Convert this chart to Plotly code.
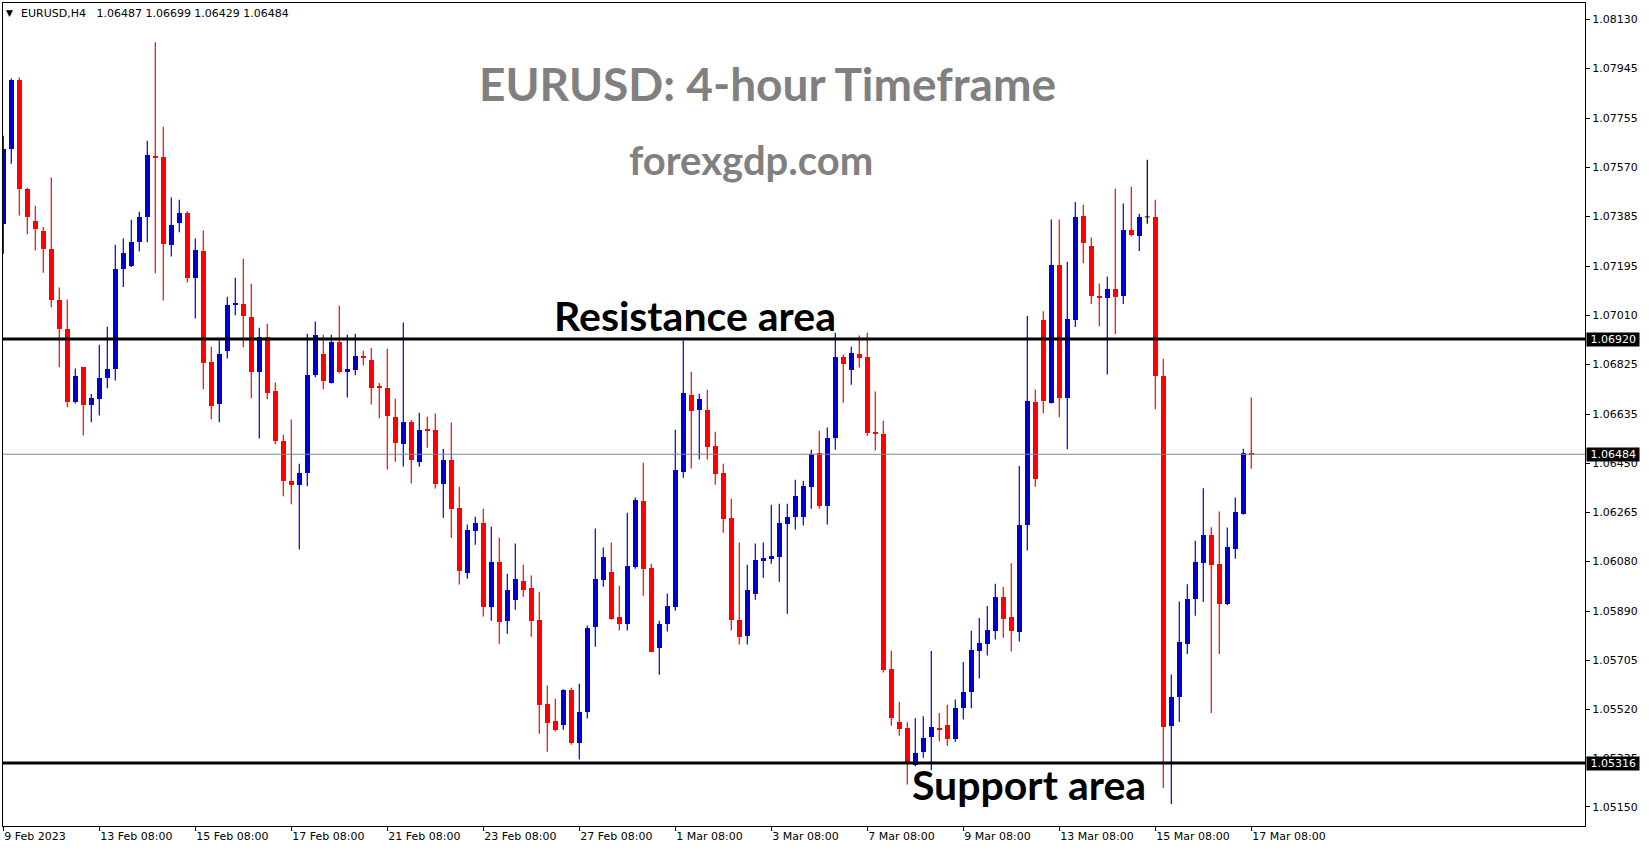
import plotly.graph_objects as go

# ---------------- data (EURUSD H4) ----------------
opens = [1.07356, 1.07637, 1.07901, 1.07489, 1.07367, 1.07329, 1.07262, 1.07069, 1.06959, 1.06681,
         1.06815, 1.06669, 1.06692, 1.06771, 1.06805, 1.07183, 1.07197, 1.07286, 1.07381, 1.07613,
         1.07609, 1.07274, 1.07360, 1.07398, 1.07150, 1.07254, 1.06834, 1.06673, 1.06873, 1.07047,
         1.07054, 1.07005, 1.06794, 1.06929, 1.06725, 1.06535, 1.06384, 1.06366, 1.06412, 1.06785,
         1.06865, 1.06755, 1.06910, 1.06794, 1.06801, 1.06857, 1.06842, 1.06741, 1.06736, 1.06626,
         1.06524, 1.06607, 1.06456, 1.06581, 1.06577, 1.06373, 1.06464, 1.06282, 1.06036, 1.06195,
         1.06225, 1.05907, 1.06078, 1.05854, 1.05934, 1.06006, 1.05979, 1.05858, 1.05540, 1.05476,
         1.05461, 1.05593, 1.05393, 1.05510, 1.05832, 1.06010, 1.06040, 1.05870, 1.05843, 1.06059,
         1.06308, 1.06055, 1.05752, 1.05843, 1.05907, 1.06418, 1.06709, 1.06653, 1.06653, 1.06517,
         1.06414, 1.06244, 1.05858, 1.05798, 1.05957, 1.06081, 1.06089, 1.06097, 1.06221, 1.06248,
         1.06248, 1.06361, 1.06490, 1.06290, 1.06547, 1.06853, 1.06804, 1.06865, 1.06853, 1.06569,
         1.06562, 1.05673, 1.05472, 1.05448, 1.05309, 1.05358, 1.05414, 1.05449, 1.05458, 1.05405,
         1.05523, 1.05583, 1.05738, 1.05765, 1.05814, 1.05945, 1.05868, 1.05810, 1.06215, 1.06681,
         1.06992, 1.06678, 1.07201, 1.06697, 1.06992, 1.07386, 1.07273, 1.07084, 1.07074, 1.07111,
         1.07082, 1.07334, 1.07308, 1.07382, 1.07383, 1.06780, 1.05455, 1.05567, 1.05766, 1.05938,
         1.06072, 1.06177, 1.06070, 1.05919, 1.06126, 1.06258, 1.06487]
highs = [1.07689, 1.07905, 1.07909, 1.07492, 1.07424, 1.07344, 1.07531, 1.07115, 1.07069, 1.06808,
         1.06815, 1.06712, 1.06898, 1.06966, 1.07277, 1.07300, 1.07371, 1.07401, 1.07670, 1.08043,
         1.07723, 1.07455, 1.07447, 1.07403, 1.07300, 1.07330, 1.06891, 1.06917, 1.07080, 1.07152,
         1.07224, 1.07129, 1.06963, 1.06978, 1.06755, 1.06558, 1.06615, 1.06448, 1.06940, 1.06986,
         1.06936, 1.06936, 1.07046, 1.06936, 1.06940, 1.06876, 1.06886, 1.06754, 1.06883, 1.06694,
         1.06982, 1.06614, 1.06641, 1.06626, 1.06638, 1.06505, 1.06604, 1.06361, 1.06218, 1.06248,
         1.06278, 1.06210, 1.06168, 1.06032, 1.06146, 1.06066, 1.06025, 1.05964, 1.05609, 1.05559,
         1.05595, 1.05601, 1.05616, 1.05836, 1.06203, 1.06131, 1.06150, 1.05987, 1.06263, 1.06320,
         1.06452, 1.06070, 1.05854, 1.05957, 1.06577, 1.06914, 1.06796, 1.06713, 1.06728, 1.06569,
         1.06448, 1.06316, 1.06150, 1.06066, 1.06146, 1.06150, 1.06293, 1.06297, 1.06297, 1.06388,
         1.06384, 1.06501, 1.06573, 1.06585, 1.06944, 1.06861, 1.06891, 1.06933, 1.06944, 1.06721,
         1.06611, 1.05741, 1.05548, 1.05470, 1.05485, 1.05493, 1.05740, 1.05505, 1.05536, 1.05556,
         1.05698, 1.05816, 1.05865, 1.05910, 1.05994, 1.05982, 1.06072, 1.06440, 1.07007, 1.06729,
         1.07025, 1.07372, 1.07372, 1.07212, 1.07438, 1.07428, 1.07304, 1.07130, 1.07156, 1.07488,
         1.07433, 1.07496, 1.07394, 1.07598, 1.07447, 1.06845, 1.05651, 1.05927, 1.05992, 1.06157,
         1.06355, 1.06208, 1.06267, 1.06207, 1.06320, 1.06505, 1.06699]
lows = [1.07242, 1.07583, 1.07387, 1.07316, 1.07255, 1.07171, 1.07040, 1.06813, 1.06662, 1.06676,
        1.06555, 1.06605, 1.06631, 1.06734, 1.06763, 1.07117, 1.07192, 1.07251, 1.07286, 1.07169,
        1.07066, 1.07232, 1.07324, 1.07134, 1.06998, 1.06730, 1.06616, 1.06605, 1.06846, 1.07010,
        1.06889, 1.06696, 1.06544, 1.06692, 1.06522, 1.06325, 1.06295, 1.06124, 1.06363, 1.06775,
        1.06730, 1.06752, 1.06790, 1.06699, 1.06783, 1.06820, 1.06672, 1.06620, 1.06426, 1.06456,
        1.06438, 1.06373, 1.06437, 1.06509, 1.06354, 1.06244, 1.06168, 1.05991, 1.06013, 1.06142,
        1.05870, 1.05854, 1.05767, 1.05805, 1.05896, 1.05945, 1.05794, 1.05427, 1.05359, 1.05435,
        1.05442, 1.05385, 1.05329, 1.05484, 1.05756, 1.05983, 1.05858, 1.05817, 1.05817, 1.06051,
        1.05949, 1.05735, 1.05650, 1.05813, 1.05892, 1.06395, 1.06430, 1.06464, 1.06464, 1.06369,
        1.06187, 1.05817, 1.05764, 1.05764, 1.05934, 1.06017, 1.06070, 1.06002, 1.05881, 1.06199,
        1.06214, 1.06278, 1.06278, 1.06218, 1.06501, 1.06679, 1.06747, 1.06812, 1.06554, 1.06498,
        1.05658, 1.05457, 1.05419, 1.05235, 1.05304, 1.05336, 1.05289, 1.05397, 1.05381, 1.05396,
        1.05481, 1.05523, 1.05636, 1.05723, 1.05783, 1.05790, 1.05738, 1.05776, 1.06120, 1.06361,
        1.06639, 1.06676, 1.06624, 1.06503, 1.06965, 1.07207, 1.07052, 1.06968, 1.06786, 1.06939,
        1.07052, 1.07308, 1.07253, 1.07356, 1.06654, 1.05221, 1.05161, 1.05471, 1.05728, 1.05873,
        1.05925, 1.05505, 1.05728, 1.05914, 1.06089, 1.06255, 1.06429]
closes = [1.07640, 1.07901, 1.07486, 1.07383, 1.07335, 1.07259, 1.07066, 1.06957, 1.06681, 1.06781,
          1.06669, 1.06698, 1.06774, 1.06808, 1.07186, 1.07247, 1.07288, 1.07382, 1.07617, 1.07608,
          1.07278, 1.07352, 1.07398, 1.07150, 1.07258, 1.06828, 1.06665, 1.06865, 1.07050, 1.07057,
          1.07006, 1.06794, 1.06929, 1.06715, 1.06533, 1.06382, 1.06366, 1.06414, 1.06785, 1.06936,
          1.06760, 1.06910, 1.06794, 1.06808, 1.06857, 1.06851, 1.06736, 1.06736, 1.06627, 1.06528,
          1.06607, 1.06464, 1.06577, 1.06575, 1.06373, 1.06464, 1.06278, 1.06044, 1.06199, 1.06225,
          1.05907, 1.06078, 1.05851, 1.05972, 1.06013, 1.05972, 1.05854, 1.05537, 1.05469, 1.05442,
          1.05593, 1.05393, 1.05510, 1.05828, 1.06013, 1.06097, 1.05862, 1.05843, 1.06063, 1.06312,
          1.06051, 1.05737, 1.05843, 1.05911, 1.06426, 1.06717, 1.06649, 1.06694, 1.06513, 1.06411,
          1.06240, 1.05858, 1.05794, 1.05972, 1.06085, 1.06093, 1.06100, 1.06225, 1.06248, 1.06327,
          1.06365, 1.06486, 1.06290, 1.06547, 1.06853, 1.06827, 1.06868, 1.06849, 1.06566, 1.06562,
          1.05669, 1.05488, 1.05446, 1.05316, 1.05354, 1.05411, 1.05451, 1.05439, 1.05405, 1.05523,
          1.05584, 1.05744, 1.05771, 1.05820, 1.05945, 1.05862, 1.05814, 1.06215, 1.06685, 1.06389,
          1.06684, 1.07201, 1.06697, 1.06995, 1.07381, 1.07283, 1.07082, 1.07074, 1.07111, 1.07078,
          1.07331, 1.07315, 1.07383, 1.07382, 1.06780, 1.05452, 1.05567, 1.05772, 1.05938, 1.06075,
          1.06177, 1.06065, 1.05919, 1.06135, 1.06264, 1.06487, 1.06484]

tick_idx = [0, 12, 24, 36, 48, 60, 72, 84, 96, 108, 120, 132, 144, 156]
tick_labels = ["9 Feb 2023", "13 Feb 08:00", "15 Feb 08:00", "17 Feb 08:00", "21 Feb 08:00",
               "23 Feb 08:00", "27 Feb 08:00", "1 Mar 08:00", "3 Mar 08:00", "7 Mar 08:00",
               "9 Mar 08:00", "13 Mar 08:00", "15 Mar 08:00", "17 Mar 08:00"]
price_ticks = [1.08130, 1.07945, 1.07755, 1.07570, 1.07385, 1.07195, 1.07010, 1.06825, 1.06635,
               1.06450, 1.06265, 1.06080, 1.05890, 1.05705, 1.05520, 1.05335, 1.05150]
resistance = 1.06920
support = 1.05316
last_price = 1.06484
header = "EURUSD,H4\u00a0\u00a0 1.06487 1.06699 1.06429 1.06484"

# ---------------- styling / layout helpers ----------------
W, H = 1649, 850
PL, PR, PT, PB = 3, 1585, 3, 826
BLUE, RED = "#0000CC", "#FF0000"
SMALL = dict(family="DejaVu Sans", size=11, color="black")
BIG = "Lato"


def pxx(x):
    return (x - PL) / (PR - PL)


def pxy(y):
    return (PB - y) / (PB - PT)


n = len(opens)
idx = list(range(n))

fig = go.Figure()

# wicks
for col, cond in ((BLUE, lambda o, c: c > o), (RED, lambda o, c: c < o), ("black", lambda o, c: c == o)):
    wx, wy = [], []
    for i in idx:
        if cond(opens[i], closes[i]):
            wx += [i, i, None]
            wy += [lows[i], highs[i], None]
    fig.add_trace(go.Scatter(x=wx, y=wy, mode="lines", line=dict(color=col, width=1.2),
                             hoverinfo="skip", showlegend=False))

# bodies
for col, cond in ((BLUE, lambda o, c: c > o), (RED, lambda o, c: c < o)):
    bx, bb, bh = [], [], []
    for i in idx:
        if cond(opens[i], closes[i]):
            bx.append(i)
            bb.append(min(opens[i], closes[i]))
            bh.append(abs(closes[i] - opens[i]))
    fig.add_trace(go.Bar(x=bx, y=bh, base=bb, width=0.625, marker=dict(color=col, line=dict(width=0)),
                         hoverinfo="skip", showlegend=False))

# doji bodies (open == close)
dx, dy = [], []
for i in idx:
    if opens[i] == closes[i]:
        dx += [i - 0.3, i + 0.3, None]
        dy += [opens[i], opens[i], None]
if dx:
    fig.add_trace(go.Scatter(x=dx, y=dy, mode="lines", line=dict(color="black", width=1),
                             hoverinfo="skip", showlegend=False))

# horizontal levels
fig.add_shape(type="line", xref="paper", x0=0, x1=1, yref="y", y0=last_price, y1=last_price,
              line=dict(color="#778899", width=1), layer="above")
for lvl in (resistance, support):
    fig.add_shape(type="line", xref="paper", x0=0, x1=1, yref="y", y0=lvl, y1=lvl,
                  line=dict(color="black", width=3), layer="above")

ann = []
# price boxes on the axis
for lvl in (resistance, last_price, support):
    ann.append(dict(xref="paper", x=1, xanchor="left", xshift=1, yref="y", y=lvl, yanchor="middle",
                    text=f"\u00a0{lvl:.5f}\u00a0", showarrow=False, bgcolor="black", borderpad=0,
                    font=dict(family="DejaVu Sans", size=11, color="white")))

# header
ann.append(dict(xref="paper", x=pxx(4), xanchor="left", yref="paper", y=pxy(13), yanchor="middle",
                text="▼", showarrow=False, font=dict(family="DejaVu Sans", size=9, color="black")))
ann.append(dict(xref="paper", x=pxx(19), xanchor="left", yref="paper", y=pxy(13), yanchor="middle",
                text=header, showarrow=False, font=SMALL))

# titles / labels
ann.append(dict(xref="paper", x=pxx(767), xanchor="center", yref="paper", y=pxy(83), yanchor="middle",
                text="<b>EURUSD: 4-hour Timeframe</b>", showarrow=False,
                font=dict(family=BIG, size=46, color="#808080")))
ann.append(dict(xref="paper", x=pxx(751), xanchor="center", yref="paper", y=pxy(160), yanchor="middle",
                text="<b>forexgdp.com</b>", showarrow=False,
                font=dict(family=BIG, size=40, color="#808080")))
ann.append(dict(xref="paper", x=pxx(695), xanchor="center", yref="paper", y=pxy(315), yanchor="middle",
                text="<b>Resistance area</b>", showarrow=False,
                font=dict(family=BIG, size=41, color="black")))
ann.append(dict(xref="paper", x=pxx(1029), xanchor="center", yref="paper", y=pxy(784), yanchor="middle",
                text="<b>Support area</b>", showarrow=False,
                font=dict(family=BIG, size=41, color="black")))

x_lo = (PL - 3.3) / 8
x_hi = (PR - 3.3) / 8
y_lo = resistance - (PB - 339) * 3.783e-5
y_hi = resistance + (339 - PT) * 3.783e-5

fig.update_layout(
    template="none",
    width=W, height=H,
    margin=dict(l=PL, r=W - PR, t=PT, b=H - PB, autoexpand=False),
    paper_bgcolor="white", plot_bgcolor="white",
    barmode="overlay", bargap=0,
    annotations=ann,
    showlegend=False,
    xaxis=dict(range=[x_lo, x_hi], tickmode="array", tickvals=tick_idx, ticktext=tick_labels,
               ticks="outside", ticklen=4, tickwidth=1, tickcolor="black", tickfont=SMALL,
               ticklabelposition="outside right", showgrid=False, zeroline=False, automargin=False,
               showline=True, linecolor="black", linewidth=1, mirror=True, fixedrange=True),
    yaxis=dict(range=[y_lo, y_hi], side="right", tickmode="array", tickvals=price_ticks,
               ticktext=[f"{v:.5f}" for v in price_ticks],
               ticks="outside", ticklen=4, tickwidth=1, tickcolor="black",
               tickfont=SMALL, automargin=False,
               showgrid=False, zeroline=False, showline=True, linecolor="black", linewidth=1,
               mirror=True, fixedrange=True),
)

fig.write_html("out.html", config={"displayModeBar": False},
               post_script="document.body.style.margin='0';document.body.style.overflow='hidden';")
